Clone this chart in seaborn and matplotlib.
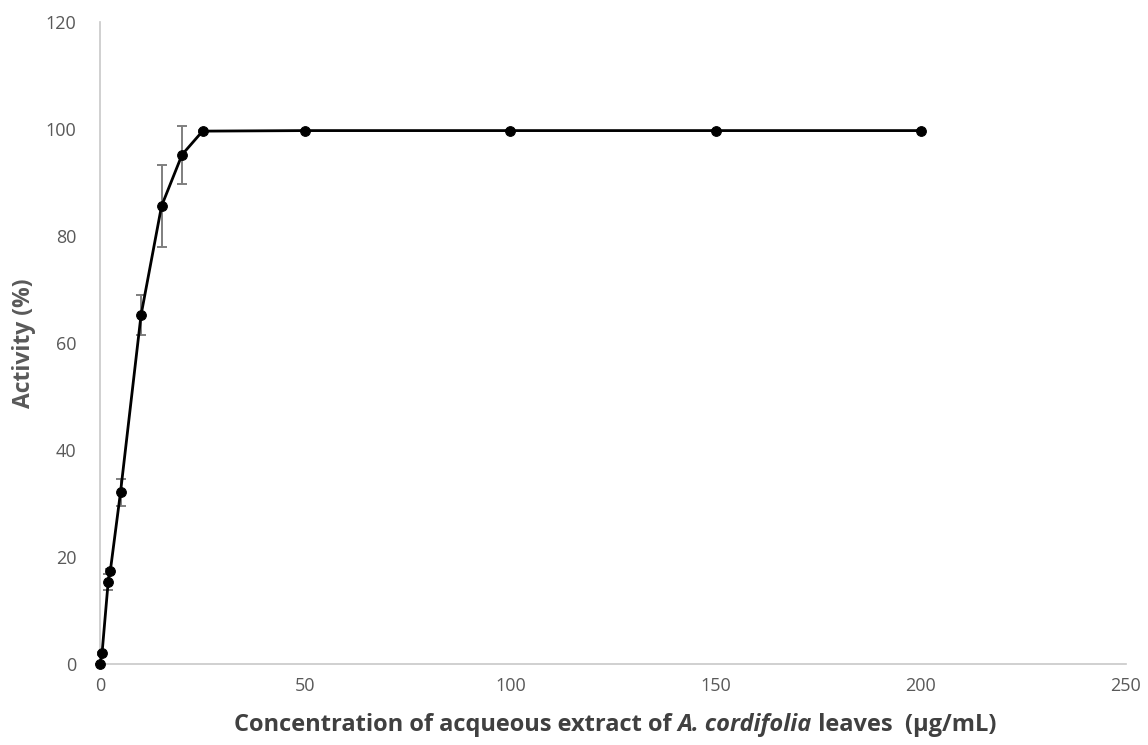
import matplotlib
matplotlib.use("Agg")
import matplotlib.pyplot as plt
import seaborn as sns
import pandas as pd

# Concentration (µg/mL), activity (%) and standard deviation
concentration = [0, 0.5, 2, 2.5, 5, 10, 15, 20, 25, 50, 100, 150, 200]
activity = [0.0, 2.0, 15.4, 17.3, 32.1, 65.2, 85.6, 95.2, 99.6, 99.7, 99.7, 99.7, 99.7]
std_dev = [0.0, 0.3, 1.5, 0.4, 2.5, 3.7, 7.7, 5.4, 0.2, 0.1, 0.1, 0.1, 0.1]

x_ticks = [0, 50, 100, 150, 200, 250]
y_ticks = [0, 20, 40, 60, 80, 100, 120]

df = pd.DataFrame({"conc": concentration, "act": activity, "sd": std_dev})

sns.set_theme(style="white")
plt.rcParams["font.family"] = ["Open Sans", "DejaVu Sans"]

fig = plt.figure(figsize=(11.48, 7.45), dpi=100)
ax = fig.add_axes([0.0871, 0.1087, 0.8937, 0.8618])

eb = ax.errorbar(df["conc"], df["act"], yerr=df["sd"], fmt="none",
                 ecolor="#7f7f7f", elinewidth=1.4, capsize=3.5, capthick=1.4, zorder=2)
sns.lineplot(data=df, x="conc", y="act", ax=ax, color="black", linewidth=2.0,
             marker="o", markersize=7, markeredgecolor="black", zorder=3)
for line in ax.get_lines():
    line.set_clip_on(False)

ax.set_xlim(0, 250)
ax.set_ylim(0, 120)
ax.set_xticks(x_ticks)
ax.set_yticks(y_ticks)
ax.set_xticklabels([str(t) for t in x_ticks])
ax.set_yticklabels([str(t) for t in y_ticks])
ax.tick_params(axis="both", length=0, labelsize=13, labelcolor="#595959")
ax.tick_params(axis="x", pad=9)
ax.tick_params(axis="y", pad=17)

for side in ["top", "right"]:
    ax.spines[side].set_visible(False)
for side in ["left", "bottom"]:
    ax.spines[side].set_color("#c8c8c8")
    ax.spines[side].set_linewidth(1.2)
    ax.spines[side].set_zorder(1)

ax.set_xlabel("")
ax.set_ylabel("Activity (%)", fontsize=16.5, fontweight="bold", color="#595959")
ax.yaxis.set_label_coords(-0.062, 0.5)

# x label assembled from pieces so the species name can be italic
label_color = "#404040"
pieces = [
    ("Concentration of acqueous extract of ", "normal"),
    ("A. cordifolia", "italic"),
    (" leaves  (µg/mL)", "normal"),
]
fig.canvas.draw()
renderer = fig.canvas.get_renderer()
texts = []
for s, style in pieces:
    t = fig.text(0, 0.019, s, fontsize=17, fontweight="bold", style=style,
                 color=label_color, ha="left", va="baseline")
    texts.append(t)
widths = [t.get_window_extent(renderer).width for t in texts]
total = sum(widths)
center_px = 615
x0 = center_px - total / 2
for t, w in zip(texts, widths):
    t.set_x(x0 / fig.bbox.width)
    x0 += w

fig.savefig("out.png", dpi=100, facecolor="white")
